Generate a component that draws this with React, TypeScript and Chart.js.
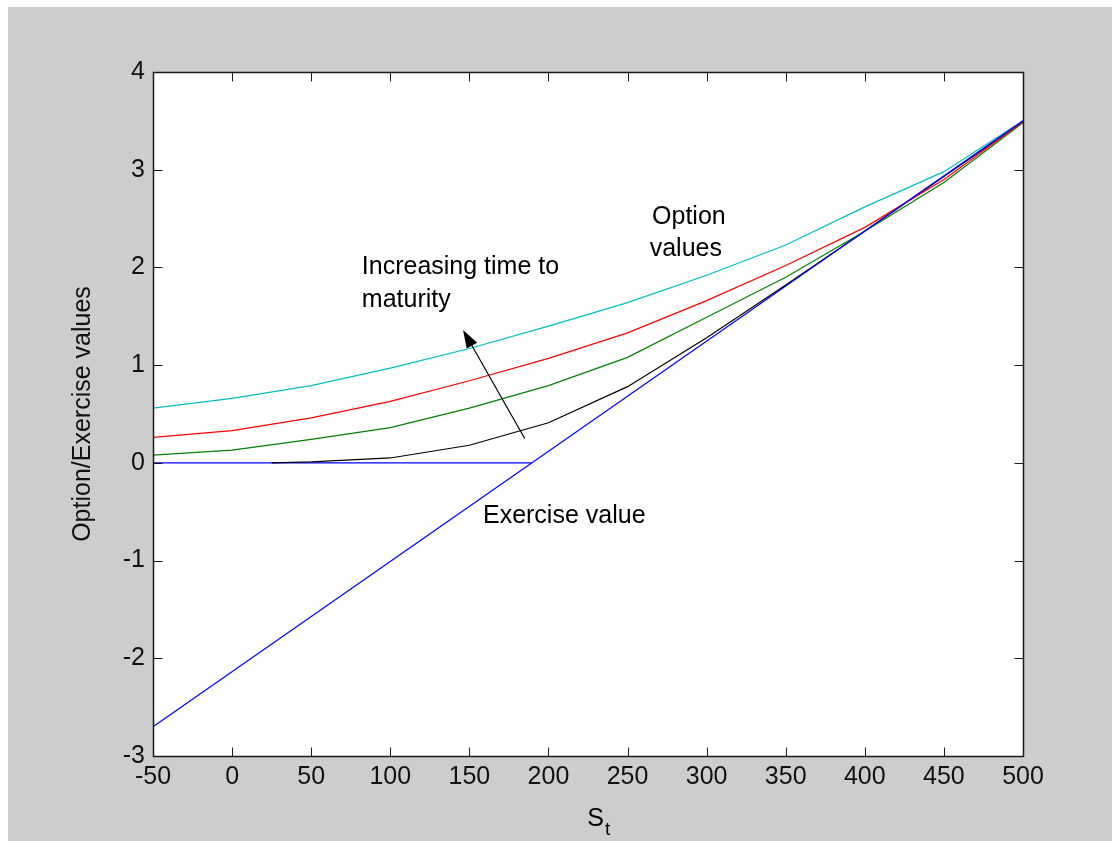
import React, { useEffect, useRef } from "react";
import { Chart, registerables } from "chart.js";

Chart.register(...registerables);

// ---- data ----
const exerciseS = [-50, 500];
const exerciseValue = [-2.7, 3.5];

const floorS = [-50, 189.5];
const floorValue = [0, 0];

const blackS = [25, 50, 100, 150, 200, 250, 300, 350, 400, 450, 500];
const blackValue = [0, 0.01, 0.05, 0.18, 0.41, 0.78, 1.28, 1.82, 2.37, 2.93, 3.49];

const curveS = [-50, 0, 50, 100, 150, 200, 250, 300, 350, 400, 450, 500];
const greenValue = [0.08, 0.13, 0.24, 0.36, 0.56, 0.79, 1.08, 1.49, 1.9, 2.37, 2.87, 3.48];
const redValue = [0.26, 0.33, 0.46, 0.63, 0.84, 1.07, 1.33, 1.66, 2.02, 2.41, 2.9, 3.49];
const cyanValue = [0.56, 0.66, 0.79, 0.97, 1.17, 1.4, 1.64, 1.92, 2.23, 2.62, 2.98, 3.5];

const xTicks = [-50, 0, 50, 100, 150, 200, 250, 300, 350, 400, 450, 500];
const yTicks = [-3, -2, -1, 0, 1, 2, 3, 4];

// arrow: tail -> head (data units)
const arrowTail = [185, 0.25];
const arrowHead = [146, 1.36];

const annotations = [
  { text: "Increasing time to", s: 82, v: 1.93 },
  { text: "maturity", s: 82, v: 1.6 },
  { text: "Option", s: 265.5, v: 2.44 },
  { text: "values", s: 264, v: 2.12 },
  { text: "Exercise value", s: 158.6, v: -0.62 },
];

const FONT = "'Liberation Sans', Arial, sans-serif";

const toPts = (xs: number[], ys: number[]) => xs.map((x, i) => ({ x, y: ys[i] }));

export default function App() {
  const ref = useRef<HTMLCanvasElement>(null);

  useEffect(() => {
    if (!ref.current) return;

    const matlabPlugin = {
      id: "matlab",
      beforeDatasetsDraw(chart: any) {
        const { ctx, chartArea } = chart;
        ctx.save();
        ctx.fillStyle = "#ffffff";
        ctx.fillRect(chartArea.left, chartArea.top, chartArea.right - chartArea.left, chartArea.bottom - chartArea.top);
        ctx.restore();
      },
      afterDatasetsDraw(chart: any) {
        const { ctx, chartArea } = chart;
        const xs = chart.scales.x;
        const ys = chart.scales.y;
        const L = Math.round(chartArea.left) + 0.5;
        const R = Math.round(chartArea.right) + 0.5;
        const T = Math.round(chartArea.top) + 0.5;
        const B = Math.round(chartArea.bottom) + 0.5;
        const tl = 9;
        ctx.save();
        ctx.strokeStyle = "#1a1a1a";
        ctx.lineWidth = 1;
        ctx.beginPath();
        xTicks.forEach((t) => {
          const px = Math.round(xs.getPixelForValue(t)) + 0.5;
          ctx.moveTo(px, B);
          ctx.lineTo(px, B - tl);
          ctx.moveTo(px, T);
          ctx.lineTo(px, T + tl);
        });
        yTicks.forEach((t) => {
          const py = Math.round(ys.getPixelForValue(t)) + 0.5;
          ctx.moveTo(L, py);
          ctx.lineTo(L + tl, py);
          ctx.moveTo(R, py);
          ctx.lineTo(R - tl, py);
        });
        ctx.stroke();
        ctx.lineWidth = 1.5;
        ctx.strokeRect(L, T, R - L, B - T);

        // arrow
        const x1 = xs.getPixelForValue(arrowTail[0]);
        const y1 = ys.getPixelForValue(arrowTail[1]);
        const x2 = xs.getPixelForValue(arrowHead[0]);
        const y2 = ys.getPixelForValue(arrowHead[1]);
        const ang = Math.atan2(y2 - y1, x2 - x1);
        const hl = 18;
        const hw = 6;
        ctx.strokeStyle = "#000";
        ctx.fillStyle = "#000";
        ctx.lineWidth = 1.2;
        ctx.beginPath();
        ctx.moveTo(x1, y1);
        ctx.lineTo(x2 - Math.cos(ang) * hl * 0.8, y2 - Math.sin(ang) * hl * 0.8);
        ctx.stroke();
        const bx = x2 - Math.cos(ang) * hl;
        const by = y2 - Math.sin(ang) * hl;
        ctx.beginPath();
        ctx.moveTo(x2, y2);
        ctx.lineTo(bx + Math.sin(ang) * hw, by - Math.cos(ang) * hw);
        ctx.lineTo(bx - Math.sin(ang) * hw, by + Math.cos(ang) * hw);
        ctx.closePath();
        ctx.fill();

        // annotations
        ctx.font = `25px ${FONT}`;
        ctx.textAlign = "left";
        ctx.textBaseline = "alphabetic";
        annotations.forEach((a) => {
          ctx.fillText(a.text, xs.getPixelForValue(a.s), ys.getPixelForValue(a.v));
        });

        // x title S_t
        const cx = (chartArea.left + chartArea.right) / 2 + 16;
        ctx.font = `25px ${FONT}`;
        ctx.textAlign = "right";
        ctx.fillText("S", cx, chartArea.bottom + 70);
        ctx.font = `19px ${FONT}`;
        ctx.textAlign = "left";
        ctx.fillText("t", cx + 1, chartArea.bottom + 79);
        ctx.restore();
      },
    };

    const line = (data: any, color: string) => ({
      data,
      borderColor: color,
      backgroundColor: color,
      borderWidth: 1.2,
      pointRadius: 0,
      fill: false,
      tension: 0,
    });

    const chart = new Chart(ref.current, {
      type: "line",
      data: {
        datasets: [
          line(toPts(exerciseS, exerciseValue), "#0000ff"),
          line(toPts(curveS, cyanValue), "#00bfbf"),
          line(toPts(curveS, redValue), "#ff0000"),
          line(toPts(curveS, greenValue), "#008000"),
          line(toPts(blackS, blackValue), "#000000"),
          line(toPts(floorS, floorValue), "#0000ff"),
        ],
      },
      options: {
        animation: false,
        responsive: false,
        layout: { padding: { left: 0, top: 65, right: 89, bottom: 0 } },
        plugins: { legend: { display: false }, tooltip: { enabled: false } },
        scales: {
          x: {
            type: "linear",
            min: -50,
            max: 500,
            afterFit: (s: any) => {
              s.height = 85;
            },
            afterBuildTicks: (s: any) => {
              s.ticks = xTicks.map((v) => ({ value: v }));
            },
            ticks: {
              color: "#111",
              font: { family: FONT, size: 25 },
              padding: 6,
              maxRotation: 0,
              autoSkip: false,
            },
            grid: { display: false, drawTicks: false },
            border: { display: false },
          },
          y: {
            type: "linear",
            min: -3,
            max: 4,
            afterFit: (s: any) => {
              s.width = 145;
            },
            afterBuildTicks: (s: any) => {
              s.ticks = yTicks.map((v) => ({ value: v }));
            },
            ticks: {
              color: "#111",
              font: { family: FONT, size: 25 },
              padding: 8,
            },
            title: {
              display: true,
              text: "Option/Exercise values",
              color: "#111",
              font: { family: FONT, size: 25 },
              padding: { top: 60, bottom: 0 },
            },
            grid: { display: false, drawTicks: false },
            border: { display: false },
          },
        },
      },
      plugins: [matlabPlugin],
    } as any);

    return () => chart.destroy();
  }, []);

  return (
    <div
      style={{
        position: "fixed",
        left: 8,
        top: 7,
        width: 1104,
        height: 834,
        background: "#cdcdcd",
      }}
    >
      <canvas ref={ref} width={1104} height={834} style={{ display: "block" }} />
    </div>
  );
}
